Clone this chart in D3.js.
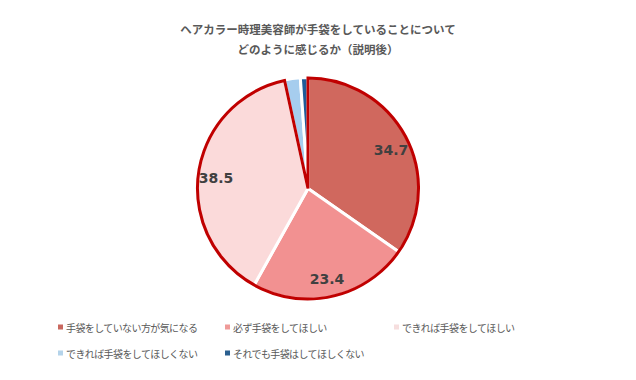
<!DOCTYPE html>
<html><head><meta charset="utf-8">
<script src="https://cdnjs.cloudflare.com/ajax/libs/d3/7.8.5/d3.min.js"></script>
<style>body{margin:0;background:#fff}svg{display:block}</style>
</head><body>
<svg id="c" width="636" height="380"></svg>
<script>
const titleLines = ["ヘアカラー時理美容師が手袋をしていることについて", "どのように感じるか（説明後）"];
const categories = ["手袋をしていない方が気になる", "必ず手袋をしてほしい", "できれば手袋をしてほしい", "できれば手袋をしてほしくない", "それでも手袋はしてほしくない"];
const values = [34.7, 23.4, 38.5, 2.3, 1.1];
const labels = ["34.7", "23.4", "38.5", "", ""];
const colors = ["#D0685E", "#F29191", "#FBDADA", "#A6CDEE", "#1F5C99"];
const legendColors = ["#C9685F", "#EF9A98", "#F6DEDE", "#B4D3EA", "#2A5F8F"];

const svg = d3.select("#c");
const font = "'Noto Sans CJK JP', 'Noto Sans', sans-serif";
const cx = 308, cy = 188.5, r = 111;

svg.append("g").selectAll("text").data(titleLines).join("text")
  .attr("x", 318).attr("y", (d, i) => 34 + i * 20)
  .attr("text-anchor", "middle").attr("font-family", font)
  .attr("font-size", 11.5).attr("font-weight", 700).attr("fill", "#595959")
  .text(d => d);

const pie = d3.pie().sort(null).value(d => d);
const arcs = pie(values);
const arc = d3.arc().innerRadius(0).outerRadius(r);
const g = svg.append("g").attr("transform", `translate(${cx},${cy})`);
g.selectAll("path.s").data(arcs).join("path").attr("class", "s")
  .attr("d", arc).attr("fill", (d, i) => colors[i])
  .attr("stroke", "#fff").attr("stroke-width", 3).attr("stroke-linejoin", "round");

// dark red outline around the three red-tone slices
const redEnd = arcs[2].endAngle;
g.append("path")
  .attr("d", d3.arc().innerRadius(0).outerRadius(r - 0.5)({startAngle: 0, endAngle: redEnd}))
  .attr("fill", "none").attr("stroke", "#C00000").attr("stroke-width", 3).attr("stroke-linejoin", "miter");

const labelPos = [[83, -39], [19, 90], [-92, -11]];
g.selectAll("text.l").data(arcs).join("text").attr("class", "l")
  .attr("x", (d, i) => labelPos[i] ? labelPos[i][0] : 0)
  .attr("y", (d, i) => labelPos[i] ? labelPos[i][1] : 0)
  .attr("text-anchor", "middle").attr("dominant-baseline", "central")
  .attr("font-family", "'DejaVu Sans', Verdana, sans-serif").attr("font-size", 14).attr("font-weight", 700)
  .attr("fill", "#404040").text((d, i) => labels[i]);

const legendPos = [[58, 327], [225, 327], [394, 327], [58, 353], [225, 353]];
const lg = svg.append("g").selectAll("g").data(categories).join("g")
  .attr("transform", (d, i) => `translate(${legendPos[i][0]},${legendPos[i][1]})`);
lg.append("rect").attr("x", 0).attr("y", -2.5).attr("width", 5).attr("height", 5)
  .attr("fill", (d, i) => legendColors[i]);
lg.append("text").attr("x", 8).attr("y", 0).attr("dominant-baseline", "central")
  .attr("font-family", font).attr("font-size", 10).attr("letter-spacing", -0.6)
  .attr("fill", "#595959").text(d => d);
</script>
</body></html>
